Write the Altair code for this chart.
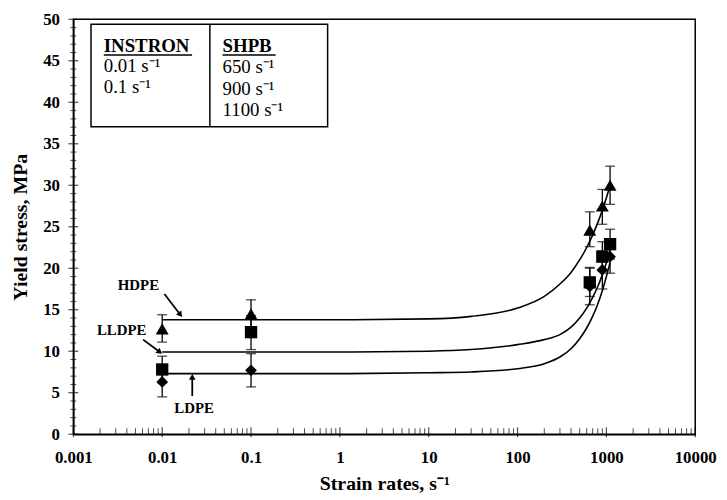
import altair as alt
import pandas as pd

# ---- data ----
materials = ["HDPE", "LLDPE", "LDPE"]
rates = [0.01, 0.1, 650, 900, 1100]

hdpe_mean = [12.7, 14.5, 24.6, 27.5, 30.0]
hdpe_lo = [11.1, 12.8, 22.6, 25.3, 27.7]
hdpe_hi = [14.4, 16.2, 26.8, 29.5, 32.3]

lldpe_mean = [7.8, 12.3, 18.3, 21.4, 22.9]
lldpe_lo = [6.2, 10.2, 16.6, 19.7, 21.1]
lldpe_hi = [9.4, 14.3, 20.1, 23.2, 24.7]

ldpe_mean = [6.3, 7.7, 17.8, 19.8, 21.4]
ldpe_lo = [4.5, 5.7, 15.6, 17.5, 19.4]
ldpe_hi = [8.1, 9.7, 20.0, 22.1, 23.4]

curve_rates = [0.01, 0.1, 1, 10, 30, 100, 200, 300, 400, 500, 600, 700, 800, 900, 1000, 1100]
hdpe_curve = [13.8, 13.8, 13.8, 13.9, 14.2, 15.2, 16.6, 18.1, 19.5, 21.0, 22.5, 24.0, 25.5, 27.0, 28.5, 30.0]
lldpe_curve = [9.9, 9.9, 9.9, 10.0, 10.2, 10.8, 11.4, 12.0, 12.9, 14.0, 15.2, 16.5, 17.8, 19.2, 20.7, 22.2]
ldpe_curve = [7.3, 7.3, 7.3, 7.4, 7.5, 7.9, 8.5, 9.3, 10.3, 11.5, 12.8, 14.2, 15.7, 17.3, 19.0, 20.7]

x_ticks = [0.001, 0.01, 0.1, 1, 10, 100, 1000, 10000]
y_ticks = [0, 5, 10, 15, 20, 25, 30, 35, 40, 45, 50]
x_minor = [m * 10.0 ** k for k in range(-3, 4) for m in range(2, 10)]
y_minor = [v for v in range(0, 51) if v % 5 != 0]

# legend box (data coordinates)
legend_left = ["INSTRON", "0.01 s\u207b\u00b9", "0.1 s\u207b\u00b9"]
legend_left_y = [46.1, 43.6, 41.1]
legend_right = ["SHPB", "650 s\u207b\u00b9", "900 s\u207b\u00b9", "1100 s\u207b\u00b9"]
legend_right_y = [46.1, 43.5, 40.9, 38.3]

# annotations
ann_text = ["HDPE", "LLDPE", "LDPE"]
ann_x = [0.0054, 0.0035, 0.0229]
ann_y = [18.0, 12.5, 3.2]
arrow_x1 = [0.0106, 0.0061, 0.0218]
arrow_y1 = [16.9, 11.4, 4.6]
arrow_x2 = [0.0160, 0.0094, 0.0218]
arrow_y2 = [14.4, 9.9, 6.9]
arrow_angle = [143, 127, 0]

# ---- tables ----
rows = []
for m, mean, lo, hi in zip(materials,
                           [hdpe_mean, lldpe_mean, ldpe_mean],
                           [hdpe_lo, lldpe_lo, ldpe_lo],
                           [hdpe_hi, lldpe_hi, ldpe_hi]):
    for r, v, l, h in zip(rates, mean, lo, hi):
        rows.append({"material": m, "rate": r, "value": v, "lo": l, "hi": h})
pts = pd.DataFrame(rows)

crows = []
for m, c in zip(materials, [hdpe_curve, lldpe_curve, ldpe_curve]):
    for i, (r, v) in enumerate(zip(curve_rates, c)):
        crows.append({"material": m, "rate": r, "value": v, "order": i})
curves = pd.DataFrame(crows)

W, H = 628, 419
FONT = "Liberation Serif"
xs = alt.Scale(type="log", domain=[0.001, 10000], nice=False)
ys = alt.Scale(domain=[0, 50], nice=False)

X_TITLE = "Strain rates, s\u207b\u00b9"
Y_TITLE = "Yield stress, MPa"
x_axis = alt.Axis(values=x_ticks, format="~g", ticks=False, grid=False,
                  labelFont=FONT, labelFontWeight="bold", labelFontSize=17,
                  labelColor="black", labelPadding=16, labelFlush=False,
                  domainColor="black", domainWidth=1.5,
                  titleFont=FONT, titleFontWeight="bold", titleFontSize=20,
                  titleColor="black", titlePadding=8)
y_axis = alt.Axis(values=y_ticks, ticks=False, grid=False,
                  labelFont=FONT, labelFontWeight="bold", labelFontSize=17,
                  labelColor="black", labelPadding=14,
                  domainColor="black", domainWidth=1.5,
                  titleFont=FONT, titleFontWeight="bold", titleFontSize=20,
                  titleColor="black", titlePadding=12)


def X(f):
    return alt.X(f, type="quantitative", scale=xs, axis=x_axis, title=X_TITLE)


def Y(f):
    return alt.Y(f, type="quantitative", scale=ys, axis=y_axis, title=Y_TITLE)


# ticks
ymaj = alt.Chart(pd.DataFrame({"v": y_ticks})).mark_tick(
    orient="horizontal", size=10, thickness=1.2, color="black").encode(
    y=Y("v"), x=alt.value(0))
ymin = alt.Chart(pd.DataFrame({"v": y_minor})).mark_tick(
    orient="horizontal", size=6, thickness=1, color="black").encode(
    y=Y("v"), x=alt.value(0))
xmaj = alt.Chart(pd.DataFrame({"v": x_ticks})).mark_tick(
    orient="vertical", size=10, thickness=1.2, color="black").encode(
    x=X("v"), y=alt.value(H - 2))
xmin = alt.Chart(pd.DataFrame({"v": x_minor})).mark_tick(
    orient="vertical", size=6, thickness=1, color="black").encode(
    x=X("v"), y=alt.value(H - 3))

lines = alt.Chart(curves).mark_line(color="black", strokeWidth=1.6, interpolate="monotone").encode(
    x=X("rate"), y=Y("value"), detail="material:N", order="order:Q")

err = alt.Chart(pts).mark_rule(color="black", strokeWidth=1.3).encode(
    x=X("rate"), y=Y("lo"), y2="hi")
cap_lo = alt.Chart(pts).mark_tick(orient="horizontal", size=10, thickness=1.3, color="black").encode(
    x=X("rate"), y=Y("lo"))
cap_hi = alt.Chart(pts).mark_tick(orient="horizontal", size=10, thickness=1.3, color="black").encode(
    x=X("rate"), y=Y("hi"))

markers = alt.Chart(pts).mark_point(filled=True, color="black", opacity=1).encode(
    x=X("rate"), y=Y("value"),
    shape=alt.Shape("material:N", scale=alt.Scale(domain=materials,
                                                    range=["triangle-up", "square", "diamond"]), legend=None),
    size=alt.Size("material:N", scale=alt.Scale(domain=materials, range=[170, 140, 90]), legend=None),
)

# legend box
box = alt.Chart(pd.DataFrame({"x1": [0.00158], "x2": [0.728], "y1": [37.05], "y2": [49.4]})).mark_rect(
    fill="white", stroke="black", strokeWidth=1.5).encode(
    x=X("x1"), x2="x2", y=Y("y1"), y2="y2")
divider = alt.Chart(pd.DataFrame({"x": [0.0344], "y1": [37.05], "y2": [49.4]})).mark_rule(
    color="black", strokeWidth=1.5).encode(x=X("x"), y=Y("y1"), y2="y2")

left_df = pd.DataFrame({"t": legend_left, "y": legend_left_y, "x": [0.0022] * 3,
                        "w": ["bold", "normal", "normal"]})
right_df = pd.DataFrame({"t": legend_right, "y": legend_right_y, "x": [0.0478] * 4,
                         "w": ["bold", "normal", "normal", "normal"]})
leg_all = pd.concat([left_df, right_df])
leg_head = alt.Chart(leg_all[leg_all.w == "bold"]).mark_text(
    align="left", baseline="alphabetic", font=FONT, fontSize=19, fontWeight="bold", color="black").encode(
    x=X("x"), y=Y("y"), text="t:N")
leg_body = alt.Chart(leg_all[leg_all.w == "normal"]).mark_text(
    align="left", baseline="alphabetic", font=FONT, fontSize=19, color="black").encode(
    x=X("x"), y=Y("y"), text="t:N")
underline = alt.Chart(pd.DataFrame({"x1": [0.0022, 0.0478], "x2": [0.0217, 0.189], "y": [45.7, 45.7]})).mark_rule(
    color="black", strokeWidth=1.5).encode(x=X("x1"), x2="x2", y=Y("y"))

ann_df = pd.DataFrame({"t": ann_text, "x": ann_x, "y": ann_y})
ann = alt.Chart(ann_df).mark_text(font=FONT, fontSize=15, fontWeight="bold", color="black").encode(
    x=X("x"), y=Y("y"), text="t:N")
arr_df = pd.DataFrame({"x1": arrow_x1, "y1": arrow_y1, "x2": arrow_x2, "y2": arrow_y2, "a": arrow_angle})
arr_line = alt.Chart(arr_df).mark_rule(color="black", strokeWidth=1.8).encode(
    x=X("x1"), x2="x2", y=Y("y1"), y2="y2")
arr_head = alt.Chart(arr_df).mark_point(shape="triangle-up", filled=True, color="black", opacity=1, size=45).encode(
    x=X("x2"), y=Y("y2"), angle=alt.Angle("a:Q", scale=None))

chart = alt.layer(
    ymin, ymaj, xmin, xmaj, lines, err, cap_lo, cap_hi, markers,
    box, divider, leg_head, leg_body, underline, ann, arr_line, arr_head
).properties(
    width=W, height=H,
    autosize=alt.AutoSizeParams(type="none"),
    padding={"left": 66, "top": 9, "right": 24, "bottom": 62},
).configure_view(stroke="black", strokeWidth=1.5)

chart.save("out.html", embed_options={"renderer": "svg", "actions": False})
